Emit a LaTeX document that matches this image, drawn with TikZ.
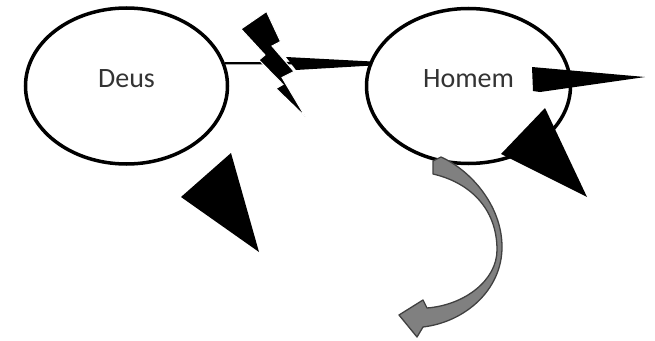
\documentclass[tikz,border=0pt]{standalone}
\usepackage{fontspec}
\setmainfont{Carlito}
\usetikzlibrary{shapes.geometric}

\begin{document}
\begin{tikzpicture}[x=1pt,y=-1pt]
        \tikzstyle{every node}=[font=\fontsize{28}{32}\selectfont, text=black!80]
        \tikzstyle{bubble}=[ellipse, draw=black, line width=3.5pt, inner sep=0pt, text height=20pt, text depth=18pt]
        \tikzstyle{blot}=[fill=black]
        \tikzstyle{bend arrow}=[fill=black!50, draw=black!75, line width=1.3pt, line join=round]
        \useasboundingbox (0,0) rectangle (655,340);
        \node[bubble, minimum width=202pt, minimum height=156pt] (deus) at (126.5,86) {Deus};
        \node[bubble, minimum width=204pt, minimum height=155pt] (homem) at (468.5,86) {Homem};
        % ligacao cortada
        \draw[line width=2.4pt] (deus.13) -- (homem.167);
        \fill[blot] (286,57) -- (372,61.5) -- (372,65.5) -- (296,70) -- cycle;
        \filldraw[blot, draw=white, line width=1pt, line join=miter] (241,29) -- (266.5,11.5) -- (280.5,41.5) -- (272,46) -- (294,71.5) -- (282,77.5) -- (305.5,117) -- (276,88.5) -- (283,84.5) -- (259,60) -- (265,55) -- cycle;
        % setas soltas
        \fill[blot] (532,67) -- (645,77) -- (540,92) -- (533,91) -- cycle;
        \fill[blot] (545,108) -- (587,197) -- (501,154) -- cycle;
        \fill[blot] (231,153) -- (259,252) -- (181,197) -- cycle;
        \filldraw[bend arrow] (441,157) .. controls (470,170) and (502,205) .. (502,247) .. controls (502,290) and (465,322) .. (423,327) -- (417,337) -- (399,315) -- (423,300) -- (427,308) .. controls (465,305) and (497,280) .. (497,250) .. controls (497,207) and (468,182) .. (433,174) -- (433,161) -- cycle;
    \end{tikzpicture}
\end{document}
